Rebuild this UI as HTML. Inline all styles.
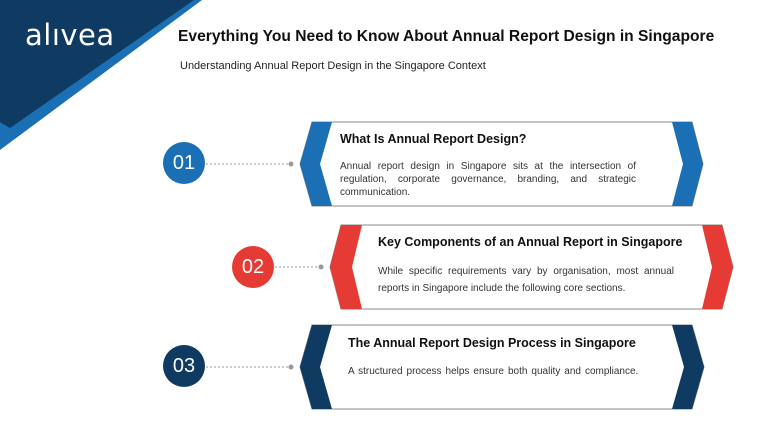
<!DOCTYPE html>
<html><head><meta charset="utf-8"><style>
body{margin:0;width:768px;height:432px;background:#fff;overflow:hidden;position:relative;font-family:"Liberation Sans",sans-serif}
.t{position:absolute;white-space:nowrap}
.c{position:absolute;width:42px;height:42px;border-radius:50%;color:#fff;font-size:20px;text-align:center;line-height:42px;letter-spacing:0px}
.h{font-weight:bold;font-size:12.5px;color:#111}
.p{font-size:10px;color:#333;line-height:13px;text-align:justify;white-space:normal}
</style></head><body>
<svg width="768" height="432" style="position:absolute;left:0;top:0">
<polygon points="0,0 202,0 0,150" fill="#1b6fb5"/>
<polygon points="0,0 194,0 10,128 0,122" fill="#0f3a62"/>
<g stroke="#999" stroke-width="1" stroke-dasharray="2,2"><line x1="206" y1="164" x2="290" y2="164"/><line x1="275" y1="267" x2="320" y2="267"/><line x1="206" y1="367" x2="290" y2="367"/></g>
<g fill="#999"><circle cx="291" cy="164" r="2.5"/><circle cx="321" cy="267" r="2.5"/><circle cx="291" cy="367" r="2.5"/></g>
<g stroke="#888" stroke-width="1" fill="#fff">
<polygon points="312,122 692,122 703,164 692,206 312,206 300,164"/>
<polygon points="341,225 722,225 733,267 722,309 341,309 330,267"/>
<polygon points="312,325 692,325 704,367 692,409 312,409 300,367"/>
</g>
<polygon points="312,122 332,122 320,164 332,206 312,206 300,164" fill="#1b6fb5"/>
<polygon points="672,122 692,122 703,164 692,206 672,206 683,164" fill="#1b6fb5"/>
<polygon points="341,225 362,225 352,267 362,309 341,309 330,267" fill="#e63b35"/>
<polygon points="702,225 722,225 733,267 722,309 702,309 712,267" fill="#e63b35"/>
<polygon points="312,325 332,325 320,367 332,409 312,409 300,367" fill="#0f3a62"/>
<polygon points="672,325 692,325 704,367 692,409 672,409 684,367" fill="#0f3a62"/>
</svg>
<div class="t" style="left:25px;top:18px;color:#fff;font-family:'DejaVu Sans',sans-serif;font-size:29px;letter-spacing:0.5px">alıvea</div>
<div class="t" style="left:178px;top:28px;font-weight:bold;font-size:15.6px;color:#111">Everything You Need to Know About Annual Report Design in Singapore</div>
<div class="t" style="left:180px;top:60px;font-size:11px;color:#222">Understanding Annual Report Design in the Singapore Context</div>
<div class="c" style="left:163px;top:142px;background:#1b6fb5">01</div>
<div class="c" style="left:232px;top:246px;background:#e63b35">02</div>
<div class="c" style="left:163px;top:345px;background:#0f3a62">03</div>
<div class="t h" style="left:340px;top:132px">What Is Annual Report Design?</div>
<div class="t p" style="left:340px;top:160px;width:296px">Annual report design in Singapore sits at the intersection of regulation, corporate governance, branding, and strategic communication.</div>
<div class="t h" style="left:378px;top:235px">Key Components of an Annual Report in Singapore</div>
<div class="t p" style="left:378px;top:263px;width:296px;line-height:17px">While specific requirements vary by organisation, most annual reports in Singapore include the following core sections.</div>
<div class="t h" style="left:348px;top:336px">The Annual Report Design Process in Singapore</div>
<div class="t p" style="left:348px;top:365px;word-spacing:1.2px">A structured process helps ensure both quality and compliance.</div>
</body></html>
